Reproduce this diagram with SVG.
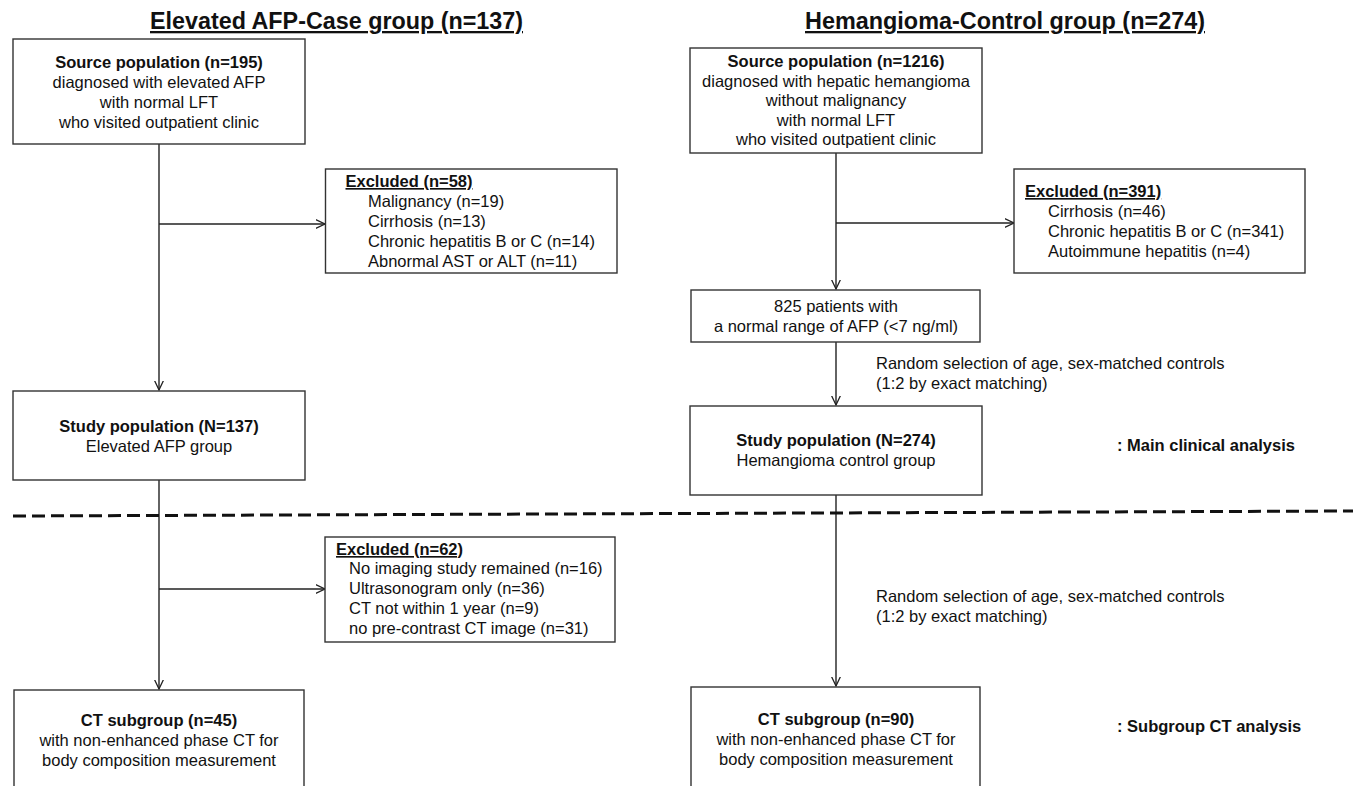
<svg xmlns="http://www.w3.org/2000/svg" width="1356" height="786" viewBox="0 0 1356 786">
<style>
text{font-family:"Liberation Sans",Arial,sans-serif;font-size:16.5px;fill:#111}
.b{font-weight:bold}
.c{text-anchor:middle}
.t{font-size:23px;font-weight:bold;text-decoration:underline}
.u{text-decoration:underline}
.box{fill:#fff;stroke:#333;stroke-width:1.4}
.ln{fill:none;stroke:#222;stroke-width:1.4}
</style>
<defs>
<marker id="ah" viewBox="0 0 10 10" refX="9.5" refY="5" markerWidth="10" markerHeight="10" markerUnits="userSpaceOnUse" orient="auto">
<path d="M0,0.5 L9.5,5 L0,9.5" fill="none" stroke="#222" stroke-width="1.3"/>
</marker>
</defs>
<rect width="1356" height="786" fill="#fff"/>
<text class="t c" x="336.5" y="29" textLength="373" lengthAdjust="spacingAndGlyphs">Elevated AFP-Case group (n=137)</text>
<text class="t c" x="1005" y="29" textLength="400" lengthAdjust="spacingAndGlyphs">Hemangioma-Control group (n=274)</text>
<g id="connectors">
<line class="ln" x1="159" y1="144" x2="159" y2="390" marker-end="url(#ah)"/>
<line class="ln" x1="159" y1="224" x2="325" y2="224" marker-end="url(#ah)"/>
<line class="ln" x1="159" y1="480" x2="159" y2="689" marker-end="url(#ah)"/>
<line class="ln" x1="159" y1="589" x2="325" y2="589" marker-end="url(#ah)"/>
<line class="ln" x1="836" y1="153" x2="836" y2="289" marker-end="url(#ah)"/>
<line class="ln" x1="836" y1="223" x2="1014" y2="223" marker-end="url(#ah)"/>
<line class="ln" x1="836" y1="342" x2="836" y2="405" marker-end="url(#ah)"/>
<line class="ln" x1="836" y1="495" x2="836" y2="686" marker-end="url(#ah)"/>
<line x1="13" y1="516" x2="1353" y2="511" stroke="#111" stroke-width="3" stroke-dasharray="13,6"/>
</g>
<g id="src-case">
<rect class="box" x="13" y="39" width="292" height="105"/>
<text class="c" x="159" y="68"><tspan class="b">Source population (n=195)</tspan><tspan x="159" dy="20">diagnosed with elevated AFP</tspan><tspan x="159" dy="20">with normal LFT</tspan><tspan x="159" dy="20">who visited outpatient clinic</tspan></text>
</g>
<g id="excl-case">
<rect class="box" x="325.5" y="169" width="291.5" height="104"/>
<text x="345.5" y="187" class="b u">Excluded (n=58)</text>
<text x="368" y="207">Malignancy (n=19)</text>
<text x="368" y="227">Cirrhosis (n=13)</text>
<text x="368" y="247">Chronic hepatitis B or C (n=14)</text>
<text x="368" y="267">Abnormal AST or ALT (n=11)</text>
</g>
<g id="study-case">
<rect class="box" x="13" y="391" width="292" height="89"/>
<text class="c b" x="159" y="432">Study population (N=137)</text>
<text class="c" x="159" y="452">Elevated AFP group</text>
</g>
<g id="excl-ct">
<rect class="box" x="325" y="537" width="290" height="105"/>
<text x="336" y="555" class="b u">Excluded (n=62)</text>
<text x="349" y="574">No imaging study remained (n=16)</text>
<text x="349" y="594">Ultrasonogram only (n=36)</text>
<text x="349" y="614">CT not within 1 year (n=9)</text>
<text x="349" y="634">no pre-contrast CT image (n=31)</text>
</g>
<g id="ct-case">
<rect class="box" x="14" y="690" width="290" height="110"/>
<text class="c b" x="159" y="726">CT subgroup (n=45)</text>
<text class="c" x="159" y="746">with non-enhanced phase CT for</text>
<text class="c" x="159" y="766">body composition measurement</text>
</g>
<g id="src-ctrl">
<rect class="box" x="690" y="48" width="292" height="105"/>
<text class="c" x="836" y="67"><tspan class="b">Source population (n=1216)</tspan><tspan x="836" dy="19.5">diagnosed with hepatic hemangioma</tspan><tspan x="836" dy="19.5">without malignancy</tspan><tspan x="836" dy="19.5">with normal LFT</tspan><tspan x="836" dy="19.5">who visited outpatient clinic</tspan></text>
</g>
<g id="excl-ctrl">
<rect class="box" x="1014" y="169" width="291" height="104"/>
<text x="1025" y="197" class="b u">Excluded (n=391)</text>
<text x="1048" y="217">Cirrhosis (n=46)</text>
<text x="1048" y="237">Chronic hepatitis B or C (n=341)</text>
<text x="1048" y="257">Autoimmune hepatitis (n=4)</text>
</g>
<g id="normal-afp">
<rect class="box" x="691" y="290" width="289" height="52"/>
<text class="c" x="836" y="312">825 patients with</text>
<text class="c" x="836" y="332">a normal range of AFP (&lt;7 ng/ml)</text>
</g>
<g id="lbl-match1">
<text x="876" y="369">Random selection of age, sex-matched controls</text>
<text x="876" y="389">(1:2 by exact matching)</text>
</g>
<g id="study-ctrl">
<rect class="box" x="690" y="406" width="292" height="89"/>
<text class="c b" x="836" y="446">Study population (N=274)</text>
<text class="c" x="836" y="466">Hemangioma control group</text>
</g>
<g id="lbl-main">
<text x="1117" y="451" class="b">: Main clinical analysis</text>
</g>
<g id="lbl-match2">
<text x="876" y="602">Random selection of age, sex-matched controls</text>
<text x="876" y="622">(1:2 by exact matching)</text>
</g>
<g id="ct-ctrl">
<rect class="box" x="691" y="687" width="289" height="110"/>
<text class="c b" x="836" y="725">CT subgroup (n=90)</text>
<text class="c" x="836" y="745">with non-enhanced phase CT for</text>
<text class="c" x="836" y="765">body composition measurement</text>
</g>
<g id="lbl-sub">
<text x="1117" y="732" class="b">: Subgroup CT analysis</text>
</g>
</svg>
